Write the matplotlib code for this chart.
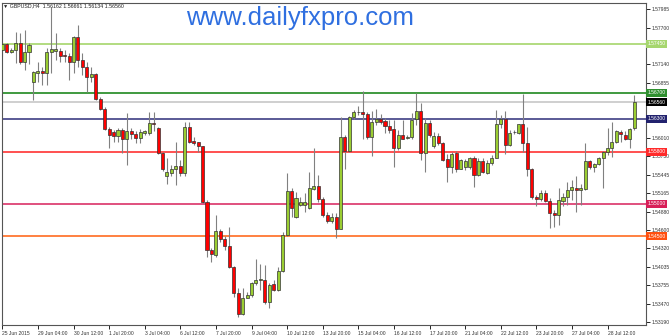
import numpy as np
import matplotlib
matplotlib.use('Agg')
import matplotlib.pyplot as plt

# GBPUSD H4 candles, 25 Jun 2015 20:00 .. 29 Jul 2015 12:00
opens = [
    1.5735, 1.5745, 1.5732, 1.5736, 1.5747, 1.5717, 1.5732,
    1.5687, 1.5701, 1.5704, 1.5700, 1.5732, 1.5734,
    1.5734, 1.5728, 1.5727, 1.5717, 1.5755, 1.5720,
    1.5709, 1.5695, 1.5699, 1.5660, 1.5645, 1.5614,
    1.5610, 1.5604, 1.5613, 1.5600, 1.5611, 1.5607,
    1.5601, 1.5609, 1.5608, 1.5624, 1.5616, 1.5578,
    1.5543, 1.5548, 1.5554, 1.5558, 1.5548, 1.5618,
    1.5596, 1.5594, 1.5588, 1.5503, 1.5429, 1.5422,
    1.5458, 1.5446, 1.5435, 1.5404, 1.5363, 1.5331,
    1.5356, 1.5360, 1.5378, 1.5384, 1.5383, 1.5349,
    1.5377, 1.5368, 1.5397, 1.5452, 1.5520, 1.5480,
    1.5498, 1.5498, 1.5493, 1.5522, 1.5527, 1.5507,
    1.5483, 1.5473, 1.5480, 1.5462, 1.5602, 1.5581,
    1.5633, 1.5641, 1.5641, 1.5638, 1.5602, 1.5625,
    1.5630, 1.5627, 1.5620, 1.5614, 1.5585, 1.5606,
    1.5601, 1.5602, 1.5630, 1.5643, 1.5578, 1.5624,
    1.5588, 1.5604, 1.5593, 1.5569, 1.5556, 1.5578,
    1.5554, 1.5556, 1.5556, 1.5571, 1.5544, 1.5565,
    1.5548, 1.5563, 1.5571, 1.5623, 1.5630, 1.5590,
    1.5610, 1.5608, 1.5622, 1.5593, 1.5553, 1.5511,
    1.5508, 1.5517, 1.5505, 1.5486, 1.5483, 1.5505,
    1.5510, 1.5521, 1.5525, 1.5521, 1.5522, 1.5566,
    1.5556, 1.5561, 1.5570, 1.5580, 1.5585, 1.5595,
    1.5610, 1.5606, 1.5600, 1.56162,
]
highs = [
    1.5748, 1.5747, 1.5738, 1.5764, 1.5761, 1.5766, 1.5746,
    1.5703, 1.5718, 1.5710, 1.5738, 1.5801, 1.5762,
    1.5738, 1.5736, 1.5731, 1.5757, 1.5774, 1.5731,
    1.5718, 1.5710, 1.5701, 1.5664, 1.5648, 1.5618,
    1.5613, 1.5616, 1.5616, 1.5639, 1.5616, 1.5611,
    1.5614, 1.5613, 1.5641, 1.5641, 1.5618, 1.5580,
    1.5570, 1.5560, 1.5595, 1.5567, 1.5626, 1.5626,
    1.5603, 1.5595, 1.5589, 1.5506, 1.5432, 1.5483,
    1.5462, 1.5450, 1.5465, 1.5405, 1.5371, 1.5371,
    1.5365, 1.5381, 1.5416, 1.5408, 1.5406, 1.5378,
    1.5383, 1.5404, 1.5457, 1.5548, 1.5524, 1.5518,
    1.5511, 1.5516, 1.5549, 1.5585, 1.5544, 1.5511,
    1.5488, 1.5486, 1.5486, 1.5633, 1.5606, 1.5635,
    1.5644, 1.5650, 1.5673, 1.5641, 1.5643, 1.5645,
    1.5638, 1.5631, 1.5628, 1.5628, 1.5613, 1.5628,
    1.5606, 1.5639, 1.5670, 1.5654, 1.5631, 1.5628,
    1.5610, 1.5608, 1.5595, 1.5577, 1.5580, 1.5581,
    1.5569, 1.5568, 1.5572, 1.5573, 1.5570, 1.5570,
    1.5567, 1.5575, 1.5644, 1.5636, 1.5643, 1.5613,
    1.5613, 1.5623, 1.5669, 1.5618, 1.5555, 1.5514,
    1.5521, 1.5521, 1.5509, 1.5491, 1.5524, 1.5516,
    1.5534, 1.5537, 1.5542, 1.5531, 1.5593, 1.5567,
    1.5562, 1.5572, 1.5581, 1.5616, 1.5626, 1.5613,
    1.5613, 1.5611, 1.5616, 1.56661,
]
lows = [
    1.5727, 1.5731, 1.5731, 1.5716, 1.5715, 1.5705, 1.5715,
    1.5659, 1.5687, 1.5682, 1.5682, 1.5701, 1.5720,
    1.5718, 1.5718, 1.5690, 1.5700, 1.5710, 1.5697,
    1.5672, 1.5687, 1.5659, 1.5644, 1.5613, 1.5585,
    1.5595, 1.5595, 1.5578, 1.5560, 1.5600, 1.5593,
    1.5593, 1.5606, 1.5606, 1.5611, 1.5577, 1.5551,
    1.5531, 1.5542, 1.5529, 1.5542, 1.5542, 1.5593,
    1.5590, 1.5580, 1.5501, 1.5419, 1.5411, 1.5419,
    1.5442, 1.5429, 1.5401, 1.5358, 1.5327, 1.5329,
    1.5355, 1.5358, 1.5375, 1.5368, 1.5347, 1.5341,
    1.5366, 1.5366, 1.5396, 1.5450, 1.5480, 1.5478,
    1.5496, 1.5488, 1.5492, 1.5521, 1.5503, 1.5480,
    1.5470, 1.5471, 1.5448, 1.5461, 1.5554, 1.5580,
    1.5630, 1.5636, 1.5599, 1.5600, 1.5573, 1.5621,
    1.5622, 1.5608, 1.5608, 1.5557, 1.5582, 1.5599,
    1.5599, 1.5600, 1.5621, 1.5567, 1.5549, 1.5603,
    1.5585, 1.5590, 1.5565, 1.5534, 1.5547, 1.5549,
    1.5553, 1.5552, 1.5554, 1.5526, 1.5543, 1.5547,
    1.5546, 1.5560, 1.5570, 1.5616, 1.5577, 1.5588,
    1.5607, 1.5607, 1.5580, 1.5542, 1.5508, 1.5497,
    1.5505, 1.5503, 1.5463, 1.5465, 1.5468, 1.5496,
    1.5498, 1.5506, 1.5488, 1.5498, 1.5521, 1.5553,
    1.5549, 1.5560, 1.5525, 1.5575, 1.5572, 1.5593,
    1.5595, 1.5598, 1.5585, 1.56134,
]
closes = [
    1.5745, 1.5733, 1.5736, 1.5747, 1.5718, 1.5732, 1.5743,
    1.5702, 1.5704, 1.5700, 1.5732, 1.5737, 1.5737,
    1.5727, 1.5726, 1.5717, 1.5755, 1.5720, 1.5710,
    1.5695, 1.5699, 1.5660, 1.5645, 1.5614, 1.5606,
    1.5604, 1.5613, 1.5600, 1.5611, 1.5607, 1.5601,
    1.5610, 1.5611, 1.5624, 1.5622, 1.5578, 1.5553,
    1.5549, 1.5554, 1.5558, 1.5548, 1.5618, 1.5595,
    1.5593, 1.5588, 1.5503, 1.5429, 1.5423, 1.5458,
    1.5446, 1.5435, 1.5404, 1.5363, 1.5331, 1.5356,
    1.5360, 1.5378, 1.5384, 1.5384, 1.5349, 1.5376,
    1.5368, 1.5397, 1.5452, 1.5520, 1.5493, 1.5509,
    1.5503, 1.5503, 1.5524, 1.5527, 1.5507, 1.5483,
    1.5473, 1.5480, 1.5462, 1.5602, 1.5581, 1.5633,
    1.5641, 1.5641, 1.5638, 1.5602, 1.5625, 1.5630,
    1.5626, 1.5620, 1.5613, 1.5585, 1.5606, 1.5600,
    1.5602, 1.5628, 1.5643, 1.5578, 1.5624, 1.5606,
    1.5604, 1.5593, 1.5567, 1.5556, 1.5577, 1.5554,
    1.5567, 1.5566, 1.5571, 1.5544, 1.5565, 1.5549,
    1.5563, 1.5571, 1.5623, 1.5630, 1.5590, 1.5609,
    1.5610, 1.5622, 1.5593, 1.5553, 1.5510, 1.5508,
    1.5517, 1.5505, 1.5486, 1.5483, 1.5506, 1.5510,
    1.5521, 1.5526, 1.5521, 1.5524, 1.5566, 1.5556,
    1.5561, 1.5570, 1.5580, 1.5585, 1.5595, 1.5611,
    1.5607, 1.5600, 1.5614, 1.56560,
]

time_labels = ['25 Jun 2015', '29 Jun 04:00', '30 Jun 12:00', '1 Jul 20:00', '3 Jul 04:00',
               '6 Jul 12:00', '7 Jul 20:00', '9 Jul 04:00', '10 Jul 12:00', '13 Jul 20:00',
               '15 Jul 04:00', '16 Jul 12:00', '17 Jul 20:00', '21 Jul 04:00', '22 Jul 12:00',
               '23 Jul 20:00', '27 Jul 04:00', '28 Jul 12:00']
bars_per_label = 8

price_ticks = [1.53190, 1.53470, 1.53755, 1.54035, 1.54320, 1.54600, 1.54880, 1.55165, 1.55445,
               1.55730, 1.56010, 1.56295, 1.56570, 1.56855, 1.57140, 1.57415, 1.57700, 1.57985]
# these tick labels sit under the coloured level tags on the original
hidden_ticks = [1.56295, 1.56570, 1.57415]

levels = [1.57450, 1.56700, 1.56560, 1.56300, 1.55800, 1.55000, 1.54500]
level_line_colors = ['#b2dc80', '#3f9a3f', '#cfcfcf', '#5a5a96', '#ff5050', '#e0507e', '#ff8040']
level_box_colors = ['#a6d66e', '#2f8f2f', '#000000', '#22226e', '#ff2a2a', '#d81e58', '#ff5010']

header = '\u25bc GBPUSD,H4  1.56162 1.56661 1.56134 1.56560'
watermark = 'www.dailyfxpro.com'

o = np.array(opens)
h = np.array(highs)
l = np.array(lows)
c = np.array(closes)
x = np.arange(len(o))
up = c >= o

fig = plt.figure(figsize=(6.7, 3.35), dpi=100)
ax = fig.add_axes([2 / 670, 10 / 335, 644 / 670, 322 / 335])

for lvl, col in zip(levels, level_line_colors):
    ax.axhline(lvl, color=col, lw=1.4, zorder=1)

ax.vlines(x, l, h, color='#808080', lw=0.8, zorder=2)
body_lo = np.minimum(o, c)
body_h = np.maximum(np.abs(c - o), 0.00003)
ax.bar(x[up], body_h[up], bottom=body_lo[up], width=0.68, color='#9acd32',
       edgecolor='#333333', linewidth=0.5, zorder=3)
ax.bar(x[~up], body_h[~up], bottom=body_lo[~up], width=0.68, color='#ff0000',
       edgecolor='#333333', linewidth=0.5, zorder=3)

ax.set_xlim(-0.07, 144.65)
ax.set_ylim(1.53144, 1.58077)

ax.yaxis.tick_right()
ax.set_yticks(price_ticks)
ax.set_yticklabels(['' if v in hidden_ticks else f'{v:.5f}' for v in price_ticks])
ax.tick_params(axis='y', length=3, width=0.6, pad=1, labelsize=3.6, labelcolor='#333333')

ax.set_xticks(np.arange(len(time_labels)) * bars_per_label)
ax.set_xticklabels(time_labels)
ax.tick_params(axis='x', length=3, width=0.6, pad=1, labelsize=3.6, labelcolor='#333333')
for lbl in ax.get_xticklabels():
    lbl.set_ha('left')
for lbl in ax.get_xticklabels() + ax.get_yticklabels():
    lbl.set_family('Liberation Sans')

for sp in ax.spines.values():
    sp.set_color('#555555')
    sp.set_linewidth(0.8)

for lvl, col in zip(levels, level_box_colors):
    ax.text(1.0025, lvl, f'{lvl:.5f}', transform=ax.get_yaxis_transform(), fontsize=3.6,
            family='Liberation Sans', color='white', ha='left', va='center', zorder=10,
            clip_on=False, bbox=dict(boxstyle='square,pad=0.3', fc=col, ec='none'))

fig.text(3 / 670, 1 - 5.5 / 335, header, fontsize=3.8, family=['Liberation Sans', 'DejaVu Sans'],
         color='#222222', ha='left', va='center')
fig.text(300 / 670, 1 - 18 / 335, watermark, fontsize=18.5, family='Liberation Sans',
         color='#2f6fe0', ha='center', va='center')

fig.savefig('out.png', dpi=100)
